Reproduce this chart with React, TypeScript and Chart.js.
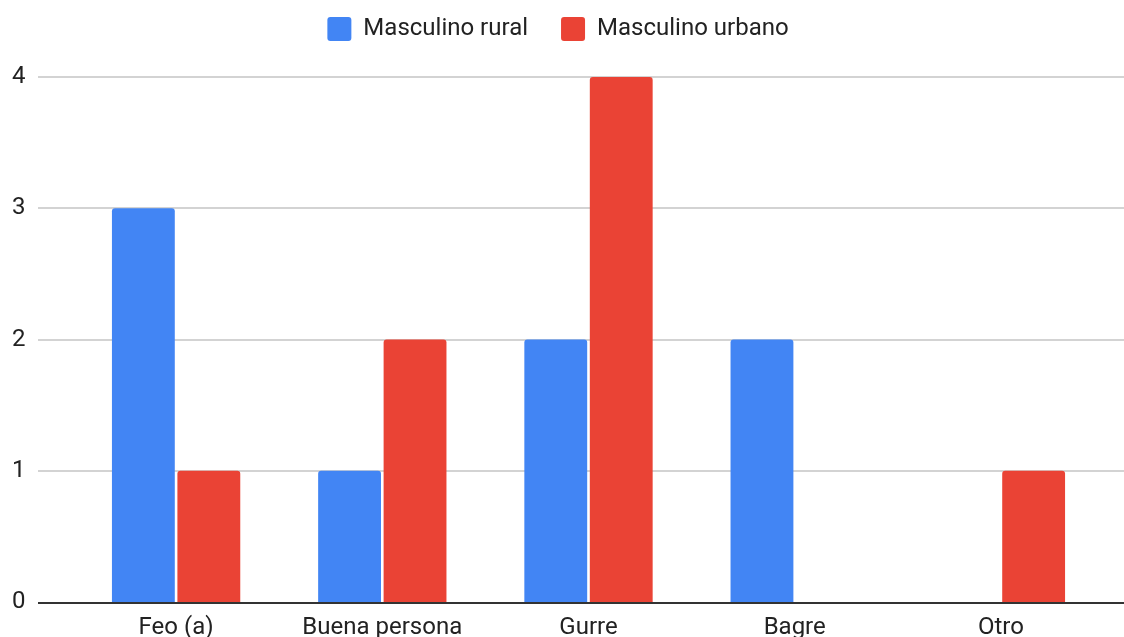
import React, { useEffect, useRef } from "react";
import { Chart, registerables } from "chart.js";

Chart.register(...registerables);

const categories = ["Feo (a)", "Buena persona", "Gurre", "Bagre", "Otro"];
const ruralValues = [3, 1, 2, 2, 0];
const urbanValues = [1, 2, 4, 0, 1];
const seriesNames = ["Masculino rural", "Masculino urbano"];
const yTicks = [0, 1, 2, 3, 4];

const FONT = "Roboto, Arial, sans-serif";

const gridPlugin = {
  id: "extGrid",
  afterInit(chart: any) {
    const legend = chart.legend;
    if (legend) {
      const orig = legend.fit.bind(legend);
      legend.fit = function () {
        orig();
        this.height += 26;
      };
    }
  },
  beforeDatasetsDraw(chart: any) {
    const ctx = chart.ctx;
    const y = chart.scales.y;
    ctx.save();
    ctx.strokeStyle = "#d3d3d3";
    ctx.lineWidth = 2;
    yTicks.forEach((v) => {
      if (v === 0) return;
      const py = Math.round(y.getPixelForValue(v));
      ctx.beginPath();
      ctx.moveTo(38, py);
      ctx.lineTo(chart.width, py);
      ctx.stroke();
    });
    ctx.restore();
  },
  afterDatasetsDraw(chart: any) {
    const ctx = chart.ctx;
    const y = chart.scales.y;
    ctx.save();
    ctx.strokeStyle = "#333333";
    ctx.lineWidth = 2;
    const py = Math.round(y.getPixelForValue(0)) + 1;
    ctx.beginPath();
    ctx.moveTo(38, py);
    ctx.lineTo(chart.width, py);
    ctx.stroke();
    ctx.restore();
  },
};

export default function App() {
  const ref = useRef<HTMLCanvasElement | null>(null);
  useEffect(() => {
    if (!ref.current) return;
    const chart = new Chart(ref.current, {
      type: "bar",
      data: {
        labels: categories,
        datasets: [
          {
            label: seriesNames[0],
            data: ruralValues,
            backgroundColor: "#4285F4",
            borderRadius: { topLeft: 3, topRight: 3, bottomLeft: 0, bottomRight: 0 },
            borderSkipped: "bottom",
            categoryPercentage: 0.635,
            barPercentage: 0.96,
          },
          {
            label: seriesNames[1],
            data: urbanValues,
            backgroundColor: "#EA4335",
            borderRadius: { topLeft: 3, topRight: 3, bottomLeft: 0, bottomRight: 0 },
            borderSkipped: "bottom",
            categoryPercentage: 0.635,
            barPercentage: 0.96,
          },
        ],
      },
      options: {
        animation: false,
        responsive: false,
        maintainAspectRatio: false,
        layout: { padding: { left: 12, right: 20, top: -16, bottom: 0 } },
        plugins: {
          legend: {
            position: "top",
            labels: {
              boxWidth: 24,
              boxHeight: 24,
              useBorderRadius: true,
              borderRadius: 3,
              padding: 33,
              color: "#222222",
              font: { family: FONT, size: 24 },
            },
          },
          tooltip: { enabled: false },
        },
        scales: {
          x: {
            grid: { display: false },
            border: { display: false },
            ticks: {
              color: "#222222",
              font: { family: FONT, size: 24 },
              padding: 4,
              maxRotation: 0,
            },
            afterFit(scale: any) {
              scale.height = 35;
            },
          },
          y: {
            min: 0,
            max: 4,
            grid: { display: false },
            border: { display: false },
            ticks: {
              stepSize: 1,
              color: "#222222",
              crossAlign: "far",
              font: { family: FONT, size: 24 },
            },
            afterFit(scale: any) {
              scale.width = 61;
            },
          },
        },
      },
      plugins: [gridPlugin],
    });
    return () => chart.destroy();
  }, []);
  return (
    <div style={{ position: "absolute", left: 0, top: 0, width: 1124, height: 637, background: "#fff" }}>
      <canvas ref={ref} width={1124} height={637} />
    </div>
  );
}
